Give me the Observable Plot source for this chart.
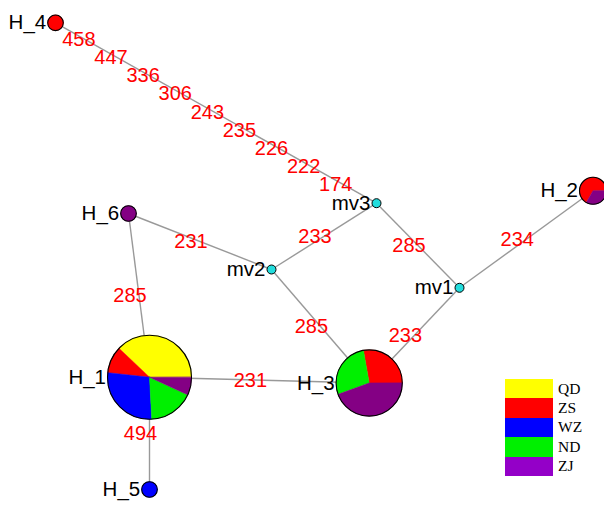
<!DOCTYPE html>
<html><head><meta charset="utf-8">
<script src="https://cdn.jsdelivr.net/npm/d3@7"></script>
<script src="https://cdn.jsdelivr.net/npm/@observablehq/plot@0.6"></script>
<style>
body{margin:0;background:#fff;}
#chart{position:relative;width:604px;height:527px;overflow:hidden;}
#legend{position:absolute;left:505px;top:379px;font-family:"Liberation Serif","Times New Roman",serif;font-size:15.5px;color:#000;}
.row{display:flex;align-items:center;height:19.4px;}
.sw{width:48px;height:19.4px;margin-right:5px;}
</style></head><body><div id="chart"></div>
<script>
// ---- network layout (layout units) ----
const nodeNames = ["H_1","H_2","H_3","H_4","H_5","H_6","mv1","mv2","mv3"];
const nodeX = [149, 592.5, 368.7, 55, 149, 128, 459, 271, 376];
const nodeY = [376.7, 190.3, 382.5, 22.3, 489, 213, 287.3, 269, 202.7];
// ---- haplotype frequencies per population ----
const populations = ["QD","ZS","WZ","ND","ZJ"];
const countQD = [11,0,0,0,0,0,0,0,0];
const countZS = [3,2,5,1,0,0,0,0,0];
const countWZ = [8,0,0,0,1,0,0,0,0];
const countND = [5,0,5,0,0,0,0,0,0];
const countZJ = [2,1,8,0,0,1,0,0,0];
// ---- edges and mutated sites ----
const edgeFrom = ["H_4","H_6","H_6","mv2","mv3","mv1","mv1","mv2","H_1","H_1"];
const edgeTo   = ["mv3","mv2","H_1","mv3","mv1","H_2","H_3","H_3","H_3","H_5"];
const edgeSites = [["458","447","336","306","243","235","226","222","174"],["231"],["285"],["233"],["285"],["234"],["233"],["285"],["231"],["494"]];

const popColors = ["#ffff00","#ff0000","#0000ff","#00f000","#840084"];
const countsByPop = [countQD, countZS, countWZ, countND, countZJ];
const idx = name => nodeNames.indexOf(name);
const totals = nodeNames.map((_, i) => d3.sum(countsByPop, c => c[i]));
const rScale = d3.scaleSqrt().domain([0, 1]).range([0, 7.8]);

// pie slices as polygons
const slices = [];
nodeNames.forEach((name, i) => {
  const tot = totals[i];
  if (!tot) return;
  const R = rScale(tot);
  let a0 = 0;
  populations.forEach((p, k) => {
    const c = countsByPop[k][i];
    if (!c) return;
    const a1 = a0 + 2 * Math.PI * c / tot;
    const id = name + "-" + p;
    const full = c === tot;
    if (!full) slices.push({id, pop: p, x: nodeX[i], y: nodeY[i]});
    const n = Math.max(4, Math.ceil((a1 - a0) / (Math.PI / 120)));
    for (let s = 0; s <= n; s++) {
      const a = a0 + (a1 - a0) * s / n;
      slices.push({id, pop: p, x: nodeX[i] + R * Math.cos(a), y: nodeY[i] - R * Math.sin(a)});
    }
    a0 = a1;
  });
});

const hapIdx = nodeNames.map((_, i) => i).filter(i => totals[i] > 0);
const mvIdx = nodeNames.map((_, i) => i).filter(i => totals[i] === 0);

const edges = edgeFrom.map((f, e) => ({x1: nodeX[idx(f)], y1: nodeY[idx(f)], x2: nodeX[idx(edgeTo[e])], y2: nodeY[idx(edgeTo[e])]}));

const chainLabels = [], singleLabels = [];
edgeSites.forEach((sites, e) => {
  const {x1, y1, x2, y2} = edges[e];
  sites.forEach((s, j) => {
    const t = sites.length > 1 ? (j + 0.73) / (sites.length + 1) : 0.5;
    (sites.length > 1 ? chainLabels : singleLabels).push({text: s, x: x1 + (x2 - x1) * t, y: y1 + (y2 - y1) * t});
  });
});

const nodeRadius = i => totals[i] ? rScale(totals[i]) : 4.5;

const plot = Plot.plot({
  width: 604, height: 527,
  marginTop: 0, marginRight: 0, marginBottom: 0, marginLeft: 0,
  x: {domain: [0, 604], range: [0, 604], axis: null},
  y: {domain: [0, 527], range: [0, 527], axis: null},
  r: {type: "sqrt", domain: [0, 1], range: [0, 7.8]},
  color: {domain: populations, range: popColors},
  style: {fontFamily: "'Liberation Sans', Arial, sans-serif", background: "white"},
  marks: [
    Plot.link(edges, {x1: "x1", y1: "y1", x2: "x2", y2: "y2", stroke: "#999", strokeWidth: 1.4}),
    Plot.line(slices, {x: "x", y: "y", z: "id", fill: "pop", stroke: "pop", strokeWidth: 0.5, curve: "linear-closed"}),
    Plot.dot(hapIdx, {x: i => nodeX[i], y: i => nodeY[i], r: i => totals[i], fill: "none", stroke: "black", strokeWidth: 1.1}),
    Plot.dot(mvIdx, {x: i => nodeX[i], y: i => nodeY[i], r: 4.5, fill: "#22dddd", stroke: "black", strokeWidth: 1}),
    Plot.text(nodeNames.map((_, i) => i), {x: i => nodeX[i] - nodeRadius(i) - 1.5, y: i => nodeY[i], text: i => nodeNames[i], textAnchor: "end", fontSize: 20.5, fill: "black"}),
    Plot.text(chainLabels, {x: "x", y: "y", text: "text", dy: 4, fontSize: 20, fill: "#ff0000"}),
    Plot.text(singleLabels, {x: "x", y: "y", text: "text", dx: -9, fontSize: 20, fill: "#ff0000"})
  ]
});
const chart = document.getElementById("chart");
chart.appendChild(plot);

const legend = document.createElement("div");
legend.id = "legend";
populations.forEach((p, k) => {
  const row = document.createElement("div");
  row.className = "row";
  const sw = document.createElement("div");
  sw.className = "sw";
  sw.style.background = k === 4 ? "#9400c8" : popColors[k];
  const lab = document.createElement("span");
  lab.textContent = p;
  row.appendChild(sw); row.appendChild(lab);
  legend.appendChild(row);
});
chart.appendChild(legend);
</script></body></html>
